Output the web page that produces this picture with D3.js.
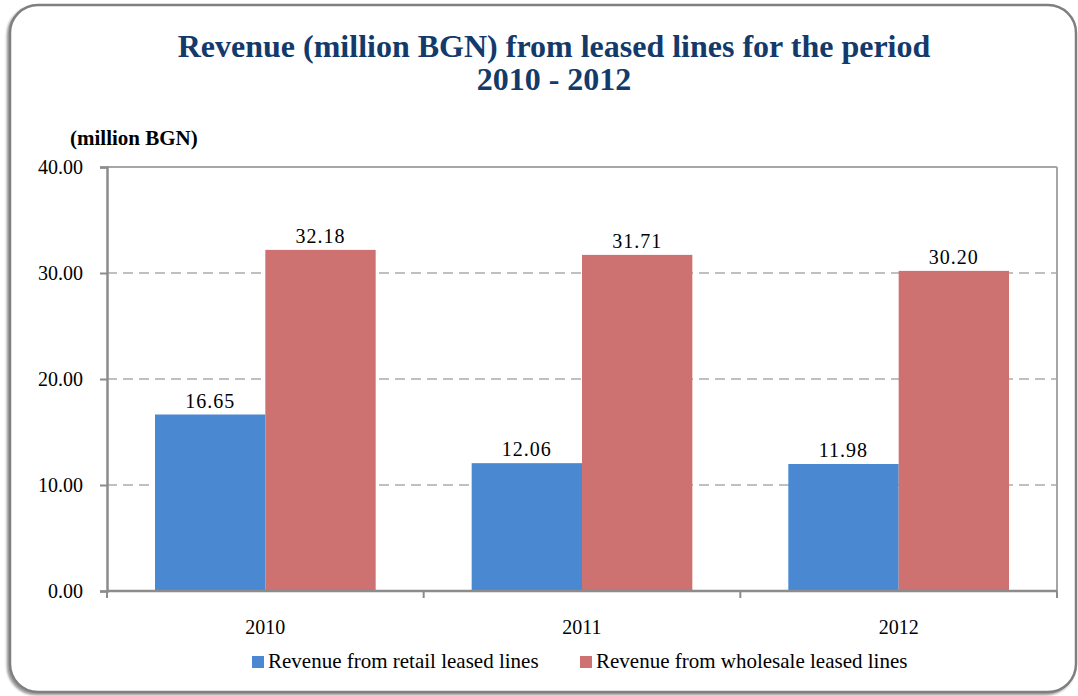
<!DOCTYPE html>
<html>
<head>
<meta charset="utf-8">
<script src="https://cdn.jsdelivr.net/npm/d3@7"></script>
<style>
  html, body { margin: 0; padding: 0; background: #ffffff; }
  svg { display: block; }
</style>
</head>
<body>
<svg id="chart" width="1078" height="696"></svg>
<script>
// Chart data
const years = ["2010", "2011", "2012"];
const seriesNames = ["Revenue from retail leased lines", "Revenue from wholesale leased lines"];
const retail = [16.65, 12.06, 11.98];
const wholesale = [32.18, 31.71, 30.20];
const yTicks = [0, 10, 20, 30, 40];
const colors = ["#4a88d2", "#cd7270"];

const FONT = "'Liberation Serif', 'Times New Roman', Tinos, serif";

const svg = d3.select("#chart");

// Outer rounded frame with a soft shadow
const defs = svg.append("defs");
const f = defs.append("filter").attr("id", "shadow")
  .attr("x", "-5%").attr("y", "-5%").attr("width", "110%").attr("height", "110%");
f.append("feDropShadow").attr("dx", -2).attr("dy", 2).attr("stdDeviation", 1.2)
  .attr("flood-color", "#555").attr("flood-opacity", 0.6);

svg.append("rect")
  .attr("x", 10).attr("y", 5).attr("width", 1066).attr("height", 687)
  .attr("rx", 28).attr("ry", 28)
  .attr("fill", "#ffffff").attr("stroke", "#7f7f7f").attr("stroke-width", 2.5)
  .attr("filter", "url(#shadow)");

// Plot area
const m = { left: 107, top: 167, right: 1057, bottom: 591 };

const x = d3.scaleBand().domain(years).range([m.left, m.right]).paddingInner(0).paddingOuter(0);
const y = d3.scaleLinear().domain([0, 40]).range([m.bottom, m.top]);

const groupPad = 48; // space on each side of a bar pair within a category
const xs = d3.scaleBand().domain([0, 1])
  .range([groupPad, x.bandwidth() - groupPad]).padding(0);

// Gridlines (dashed) for inner ticks
svg.append("g").selectAll("line")
  .data(yTicks.filter(d => d > 0 && d < 40))
  .join("line")
  .attr("x1", m.left).attr("x2", m.right)
  .attr("y1", d => y(d)).attr("y2", d => y(d))
  .attr("stroke", "#c0c0c0").attr("stroke-width", 2)
  .attr("stroke-dasharray", "10,6");

// Plot frame: top and right edges
svg.append("line").attr("x1", m.left).attr("x2", m.right).attr("y1", y(40)).attr("y2", y(40))
  .attr("stroke", "#a6a6a6").attr("stroke-width", 2);
svg.append("line").attr("x1", m.right).attr("x2", m.right).attr("y1", m.top).attr("y2", m.bottom)
  .attr("stroke", "#a6a6a6").attr("stroke-width", 2);

// Bars and value labels
const series = [retail, wholesale];
const barG = svg.append("g");
series.forEach((vals, si) => {
  const rows = vals.map((v, i) => ({ v, year: years[i] }));
  barG.selectAll(null)
    .data(rows)
    .join("rect")
    .attr("x", d => x(d.year) + xs(si))
    .attr("width", xs.bandwidth())
    .attr("y", d => y(d.v))
    .attr("height", d => y(0) - y(d.v))
    .attr("fill", colors[si]);

  barG.selectAll(null)
    .data(rows)
    .join("text")
    .attr("x", d => x(d.year) + xs(si) + xs.bandwidth() / 2)
    .attr("y", d => y(d.v) - 7)
    .attr("text-anchor", "middle")
    .style("font-family", FONT)
    .style("font-size", "20px")
    .style("letter-spacing", "1px")
    .attr("fill", "#000")
    .text(d => d.v.toFixed(2));
});

// Y axis
const yAxis = d3.axisLeft(y).tickValues(yTicks).tickFormat(d3.format(".2f")).tickSize(7).tickPadding(17);
const yg = svg.append("g").attr("transform", `translate(${m.left},0)`).call(yAxis);
yg.select(".domain").attr("stroke", "#8c8c8c").attr("stroke-width", 2.5);
yg.selectAll(".tick line").attr("stroke", "#8c8c8c").attr("stroke-width", 2);
yg.selectAll(".tick text")
  .style("font-family", FONT).style("font-size", "20px").attr("fill", "#000");

// X axis: ticks at category boundaries
const xg = svg.append("g").attr("transform", `translate(0,${m.bottom})`);
xg.append("line").attr("x1", m.left).attr("x2", m.right).attr("y1", 0).attr("y2", 0)
  .attr("stroke", "#8c8c8c").attr("stroke-width", 2.5);
const bounds = years.map(d => x(d)).concat([x.range()[1]]);
xg.selectAll("line.tk").data(bounds).join("line").attr("class", "tk")
  .attr("x1", d => d).attr("x2", d => d).attr("y1", 0).attr("y2", 7)
  .attr("stroke", "#8c8c8c").attr("stroke-width", 2);
xg.selectAll("text").data(years).join("text")
  .attr("x", d => x(d) + x.bandwidth() / 2)
  .attr("y", 43)
  .attr("text-anchor", "middle")
  .style("font-family", FONT).style("font-size", "20px")
  .attr("fill", "#000")
  .text(d => d);

// Title
const title = svg.append("text").attr("text-anchor", "middle")
  .style("font-family", FONT).style("font-weight", "bold").style("font-size", "32px")
  .attr("fill", "#133a6a");
title.append("tspan").attr("x", 554).attr("y", 57).text("Revenue (million BGN) from leased lines for the period");
title.append("tspan").attr("x", 554).attr("y", 90).text("2010 - 2012");

// Unit label
svg.append("text").attr("x", 70).attr("y", 145)
  .style("font-family", FONT).style("font-weight", "bold").style("font-size", "21px")
  .attr("fill", "#000")
  .text("(million BGN)");

// Legend
const legendItems = [
  { name: seriesNames[0], color: colors[0], x: 252 },
  { name: seriesNames[1], color: colors[1], x: 580 }
];
const lg = svg.append("g");
legendItems.forEach(it => {
  lg.append("rect").attr("x", it.x).attr("y", 656).attr("width", 12).attr("height", 12).attr("fill", it.color);
  lg.append("text").attr("x", it.x + 16).attr("y", 668)
    .style("font-family", FONT).style("font-size", "21px")
    .attr("fill", "#000").text(it.name);
});
</script>
</body>
</html>
